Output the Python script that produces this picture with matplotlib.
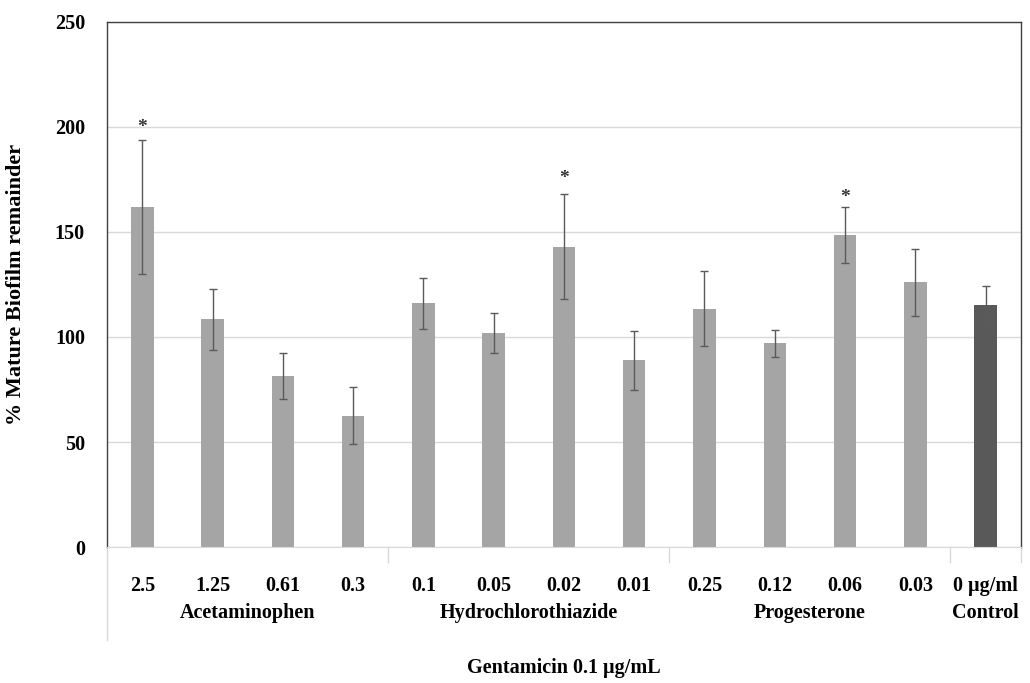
import numpy as np
import matplotlib.pyplot as plt

# Data
doses = ['2.5', '1.25', '0.61', '0.3', '0.1', '0.05', '0.02', '0.01',
         '0.25', '0.12', '0.06', '0.03', '0 µg/ml']
groups = ['Acetaminophen', 'Hydrochlorothiazide', 'Progesterone', 'Control']
group_sizes = [4, 4, 4, 1]
means = [162, 108.5, 81.5, 62.5, 116, 102, 143, 89, 113.5, 97, 148.5, 126, 115]
errors = [32, 14.5, 11, 13.5, 12, 9.5, 25, 14, 18, 6.5, 13.3, 16, 9.5]
stars = [0, 6, 10]
star_y = [199.5, 175.5, 166.5]

plt.rcParams['font.family'] = ['Liberation Serif', 'DejaVu Serif']
plt.rcParams['font.weight'] = 'bold'
FS = 14.5

fig = plt.figure(figsize=(10.3, 6.83), dpi=100)
ax = fig.add_axes([0.104, 0.199, 0.887, 0.769])

x = np.arange(len(means))
colors = ['#A5A5A5'] * (len(means) - 1) + ['#595959']
ax.bar(x, means, width=0.32, color=colors, zorder=2)
ax.errorbar(x, means, yerr=errors, fmt='none', ecolor='#5A5A5A',
            elinewidth=1, capsize=3, capthick=1, zorder=3)

for i, y in zip(stars, star_y):
    ax.text(x[i], y, '*', ha='center', va='center', fontsize=14,
            color='#333333')

ax.set_xlim(-0.5, len(means) - 0.5)
ax.set_ylim(0, 250)
ax.set_yticks(np.arange(0, 251, 50))
ax.yaxis.grid(True, color='#D9D9D9', linewidth=1, zorder=0)
ax.tick_params(axis='y', length=0, labelsize=FS, pad=16)
for lab in ax.get_yticklabels():
    lab.set_fontweight('bold')

ax.set_xticks(x)
ax.set_xticklabels(doses, fontsize=FS, fontweight='bold')
ax.tick_params(axis='x', length=0, pad=21)

for side in ['top', 'right', 'left']:
    ax.spines[side].set_color('#404040')
    ax.spines[side].set_linewidth(1)
ax.spines['bottom'].set_color('#D9D9D9')

ax.set_ylabel('% Mature Biofilm remainder', fontsize=16, fontweight='bold')
ax.yaxis.set_label_coords(-0.089, 0.5)

# multi-level category axis
trans = ax.get_xaxis_transform()
ax.plot([-0.5, -0.5], [0, -0.177], transform=trans, color='#D9D9D9',
        lw=1, clip_on=False)
start = 0
for name, n in zip(groups, group_sizes):
    center = start + (n - 1) / 2
    ax.text(center, -0.125, name, transform=trans, ha='center', va='center',
            fontsize=FS, fontweight='bold')
    end = start + n - 0.5
    ax.plot([end, end], [0, -0.029], transform=trans, color='#D9D9D9',
            lw=1, clip_on=False)
    start += n

ax.text(0.5, -0.23, 'Gentamicin 0.1 µg/mL', transform=ax.transAxes,
        ha='center', va='center', fontsize=FS, fontweight='bold')

fig.savefig('out.png', dpi=100)
